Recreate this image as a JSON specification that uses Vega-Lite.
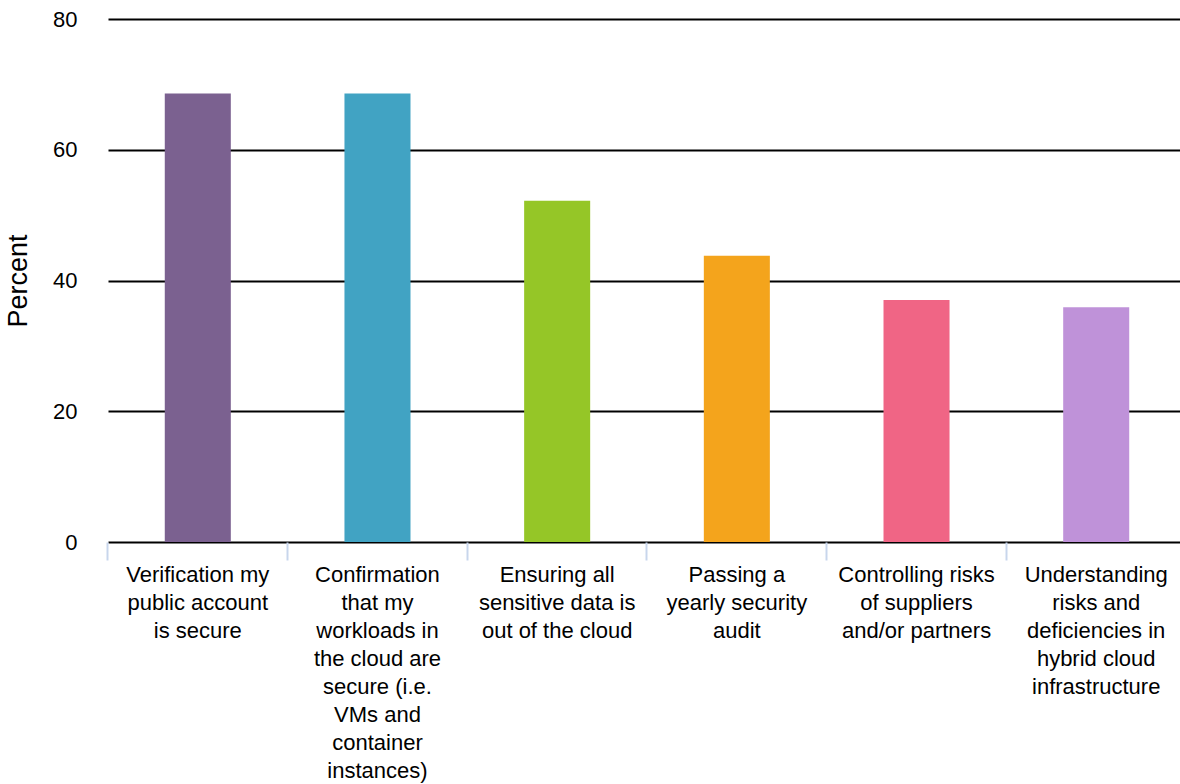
{
  "$schema": "https://vega.github.io/schema/vega-lite/v6.json",
  "width": 1072,
  "height": 523,
  "autosize": "none",
  "padding": {"left": 108, "top": 19, "right": 0, "bottom": 242},
  "background": "white",
  "config": {
    "font": "Liberation Sans",
    "view": {"stroke": null}
  },
  "data": {
    "values": [
      {"item": "Verification my|public account|is secure", "percent": 68.6, "color": "#7b6190"},
      {"item": "Confirmation|that my|workloads in|the cloud are|secure (i.e.|VMs and|container|instances)", "percent": 68.6, "color": "#41a3c3"},
      {"item": "Ensuring all|sensitive data is|out of the cloud", "percent": 52.2, "color": "#95c627"},
      {"item": "Passing a|yearly security|audit", "percent": 43.8, "color": "#f4a41c"},
      {"item": "Controlling risks|of suppliers|and/or partners", "percent": 37, "color": "#f06585"},
      {"item": "Understanding|risks and|deficiencies in|hybrid cloud|infrastructure", "percent": 35.9, "color": "#bf92d9"}
    ]
  },
  "mark": {"type": "bar"},
  "encoding": {
    "x": {
      "field": "item",
      "type": "nominal",
      "sort": null,
      "scale": {"range": [0, 1078], "paddingInner": 0.6325, "paddingOuter": 0.316},
      "axis": {
        "title": null,
        "labelAngle": 0,
        "labelExpr": "split(datum.label, '|')",
        "labelFontSize": 22,
        "labelColor": "black",
        "labelLineHeight": 28,
        "labelPadding": 4,
        "labelLimit": 0,
        "domain": false,
        "ticks": true,
        "tickColor": "#c8d6ec",
        "tickWidth": 2,
        "tickSize": 18,
        "bandPosition": -0.864,
        "grid": false
      }
    },
    "y": {
      "field": "percent",
      "type": "quantitative",
      "scale": {"domain": [0, 80]},
      "axis": {
        "title": "Percent",
        "titleFontSize": 27,
        "titleFontWeight": "normal",
        "titleColor": "black",
        "titlePadding": 20,
        "values": [0, 20, 40, 60, 80],
        "labelFontSize": 22,
        "labelColor": "black",
        "labelPadding": 31,
        "ticks": false,
        "domain": false,
        "grid": true,
        "gridColor": "black",
        "gridWidth": 2
      }
    },
    "color": {"field": "color", "type": "nominal", "scale": null, "legend": null}
  }
}
